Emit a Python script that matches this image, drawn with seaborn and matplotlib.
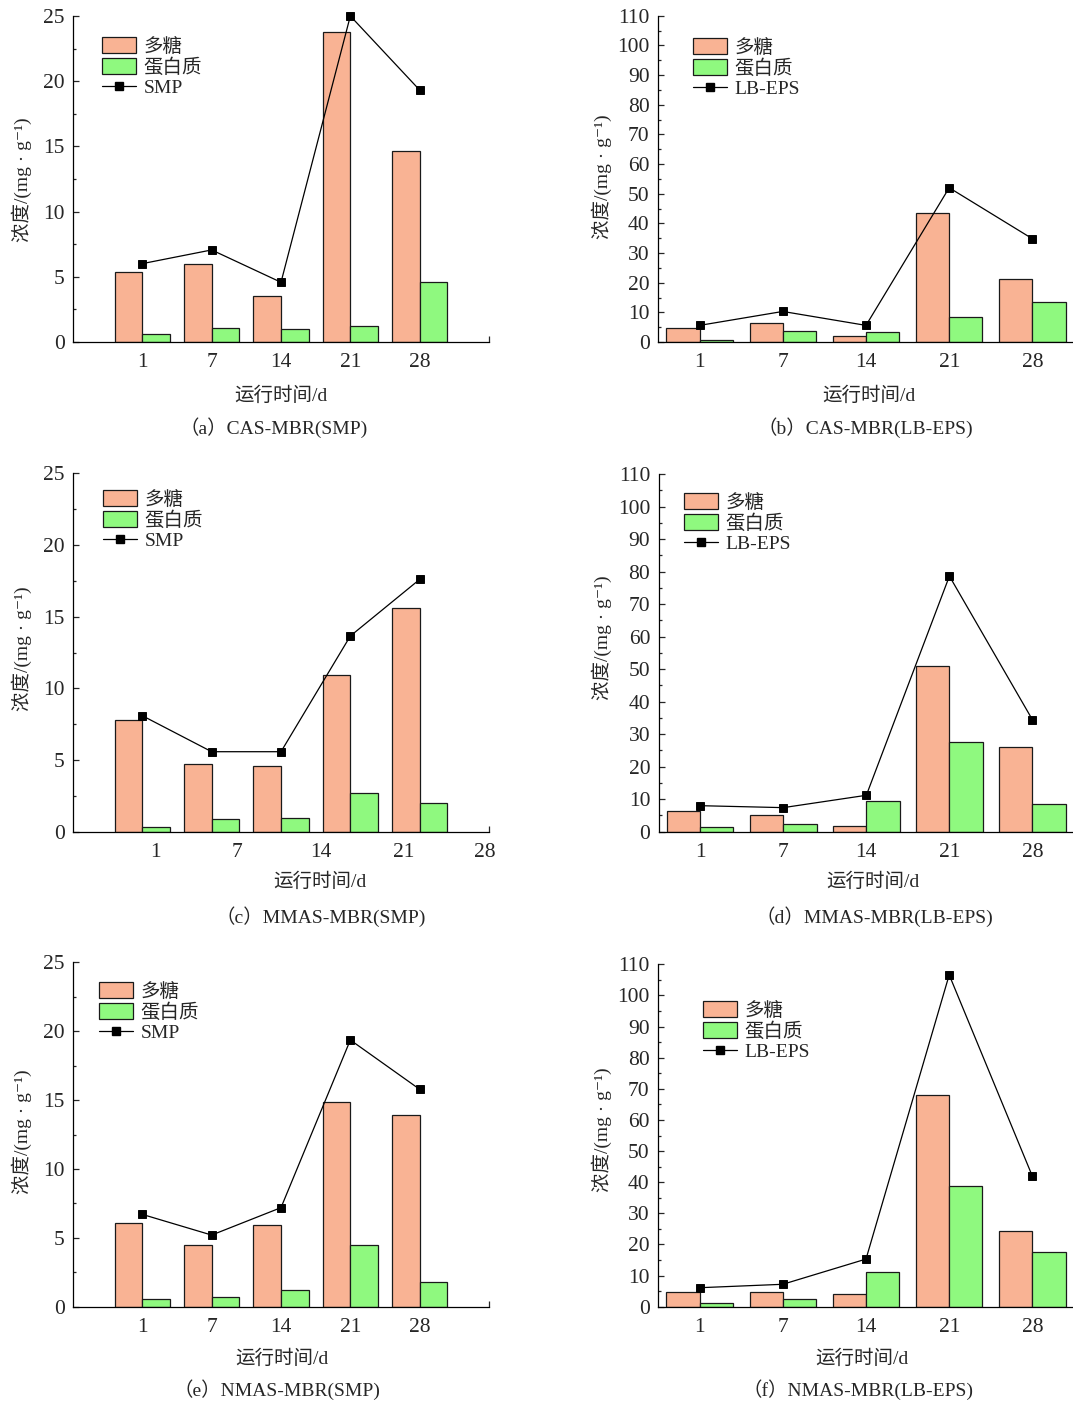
import matplotlib
matplotlib.use("Agg")
import matplotlib.pyplot as plt
import seaborn as sns
import pandas as pd
from matplotlib.patches import Patch
from matplotlib.lines import Line2D
from matplotlib.ticker import MultipleLocator

# ---------------- data ----------------
days = ['1', '7', '14', '21', '28']
series_names = ['多糖', '蛋白质']

a_poly = [5.37, 5.96, 3.53, 23.77, 14.66]
a_prot = [0.64, 1.07, 1.00, 1.25, 4.63]
a_smp = [6.01, 7.06, 4.58, 25.0, 19.32]

b_poly = [4.7, 6.5, 2.1, 43.5, 21.1]
b_prot = [0.8, 3.7, 3.3, 8.5, 13.5]
b_eps = [5.6, 10.3, 5.6, 52.0, 34.8]

c_poly = [7.79, 4.70, 4.60, 10.93, 15.63]
c_prot = [0.30, 0.88, 0.98, 2.72, 2.02]
c_smp = [8.09, 5.58, 5.58, 13.65, 17.60]

d_poly = [6.5, 5.1, 1.7, 50.9, 26.1]
d_prot = [1.5, 2.3, 9.4, 27.7, 8.4]
d_eps = [8.0, 7.4, 11.2, 78.6, 34.4]

e_poly = [6.10, 4.48, 5.95, 14.88, 13.94]
e_prot = [0.58, 0.73, 1.23, 4.48, 1.82]
e_smp = [6.70, 5.20, 7.19, 19.36, 15.78]

f_poly = [4.7, 4.6, 4.0, 67.9, 24.4]
f_prot = [1.3, 2.5, 11.2, 38.7, 17.6]
f_eps = [6.1, 7.2, 15.3, 106.6, 41.9]

captions = ['（a）CAS-MBR(SMP)', '（b）CAS-MBR(LB-EPS)', '（c）MMAS-MBR(SMP)',
            '（d）MMAS-MBR(LB-EPS)', '（e）NMAS-MBR(SMP)', '（f）NMAS-MBR(LB-EPS)']
line_names = ['SMP', 'LB-EPS', 'SMP', 'LB-EPS', 'SMP', 'LB-EPS']
xlabel_text = '运行时间/d'
ylabel_text = '浓度/(mg · g⁻¹)'

# ---------------- style ----------------
sns.set_style('ticks')
plt.rcParams['font.family'] = ['Liberation Serif', 'Noto Sans CJK SC', 'DejaVu Serif']
plt.rcParams['axes.linewidth'] = 0.9

PINK = '#F9B394'
GREEN = '#8FF97F'
EDGE = '#1a1a1a'
FS = 14
TFS = 15.5

W, H = 1073, 1403
fig = plt.figure(figsize=(W / 100, H / 100), dpi=100)


def rect(l, t, r, b):
    return [l / W, 1 - b / H, (r - l) / W, (b - t) / H]


panels = [
    dict(box=(73, 16, 489, 342), poly=a_poly, prot=a_prot, line=a_smp, ymax=25, major=5,
         xlim=(-1, 5), ticks=[0, 1, 2, 3, 4], leg=(102, 37), ylab_y=180,
         xl=(281, 396), cap=(274, 428)),
    dict(box=(658, 15.7, 1074, 342), poly=b_poly, prot=b_prot, line=b_eps, ymax=110, major=10,
         xlim=(-0.5, 4.5), ticks=[0, 1, 2, 3, 4], leg=(693, 38), ylab_y=177,
         xl=(869, 396), cap=(865, 428)),
    dict(box=(73, 473.3, 489, 831.7), poly=c_poly, prot=c_prot, line=c_smp, ymax=25, major=5,
         xlim=(-1, 5), ticks=[0.19, 1.37, 2.57, 3.77, 4.94], leg=(103, 490), ylab_y=649,
         xl=(320, 882), cap=(321, 917)),
    dict(box=(658.7, 474, 1074, 831.7), poly=d_poly, prot=d_prot, line=d_eps, ymax=110, major=10,
         xlim=(-0.5, 4.5), ticks=[0, 1, 2, 3, 4], leg=(684, 493), ylab_y=638,
         xl=(873, 882), cap=(874, 917)),
    dict(box=(73, 962.3, 489, 1306.7), poly=e_poly, prot=e_prot, line=e_smp, ymax=25, major=5,
         xlim=(-1, 5), ticks=[0, 1, 2, 3, 4], leg=(99, 982), ylab_y=1132,
         xl=(282, 1359), cap=(277, 1390)),
    dict(box=(658, 964.3, 1074, 1306.7), poly=f_poly, prot=f_prot, line=f_eps, ymax=110, major=10,
         xlim=(-0.5, 4.5), ticks=[0, 1, 2, 3, 4], leg=(703, 1001), ylab_y=1130,
         xl=(862, 1359), cap=(858, 1390)),
]

for i, p in enumerate(panels):
    ax = fig.add_axes(rect(*p['box']))
    df = pd.DataFrame({
        'day': days * 2,
        'val': p['poly'] + p['prot'],
        'type': [series_names[0]] * len(days) + [series_names[1]] * len(days),
    })
    sns.barplot(data=df, x='day', y='val', hue='type', order=days, hue_order=series_names,
                palette=[PINK, GREEN], width=0.8, edgecolor=EDGE, linewidth=0.9,
                saturation=1, legend=False, ax=ax, zorder=2)
    sns.pointplot(x=days, y=p['line'], order=days, color='black', markers='s',
                  linestyles='-', errorbar=None, markersize=6, linewidth=0.9, ax=ax)
    for ln in ax.lines:
        ln.set_clip_on(False)
        ln.set_zorder(5)

    ax.set_xlim(*p['xlim'])
    ax.set_ylim(0, p['ymax'])
    ax.yaxis.set_major_locator(MultipleLocator(p['major']))
    ax.yaxis.set_minor_locator(MultipleLocator(p['major'] / 2))
    ax.set_xticks(p['ticks'])
    ax.set_xticklabels(days)
    ax.set_xticks([p['xlim'][1]], minor=True)
    ax.tick_params(axis='x', which='major', length=0, pad=8, labelsize=TFS)
    ax.tick_params(axis='x', which='minor', direction='in', length=4, width=0.9)
    ax.tick_params(axis='y', which='major', direction='in', length=4, width=0.9, pad=6, labelsize=TFS)
    ax.tick_params(axis='y', which='minor', direction='in', length=2.2, width=0.9)
    ax.set_xlabel('')
    ax.set_ylabel('')
    sns.despine(ax=ax)
    for s in ['left', 'bottom']:
        ax.spines[s].set_color('black')

    handles = [Patch(facecolor=PINK, edgecolor=EDGE, linewidth=0.9),
               Patch(facecolor=GREEN, edgecolor=EDGE, linewidth=0.9),
               Line2D([], [], color='black', marker='s', markersize=6, linewidth=0.9)]
    lx, ly = p['leg']
    ax.legend(handles, series_names + [line_names[i]], loc='upper left',
              bbox_to_anchor=(lx / W, 1 - ly / H), bbox_transform=fig.transFigure,
              frameon=False, fontsize=FS, borderpad=0, borderaxespad=0,
              handlelength=1.75, handleheight=0.9, handletextpad=0.4, labelspacing=0.1)

    box = p['box']
    ylab_x = 22 if box[0] < 300 else 602
    fig.text(ylab_x / W, 1 - p['ylab_y'] / H, ylabel_text, rotation=90,
             ha='center', va='center', fontsize=FS)
    fig.text(p['xl'][0] / W, 1 - p['xl'][1] / H, xlabel_text, ha='center', va='center', fontsize=FS)
    fig.text(p['cap'][0] / W, 1 - p['cap'][1] / H, captions[i], ha='center', va='center', fontsize=FS)

fig.savefig('out.png', dpi=100)
